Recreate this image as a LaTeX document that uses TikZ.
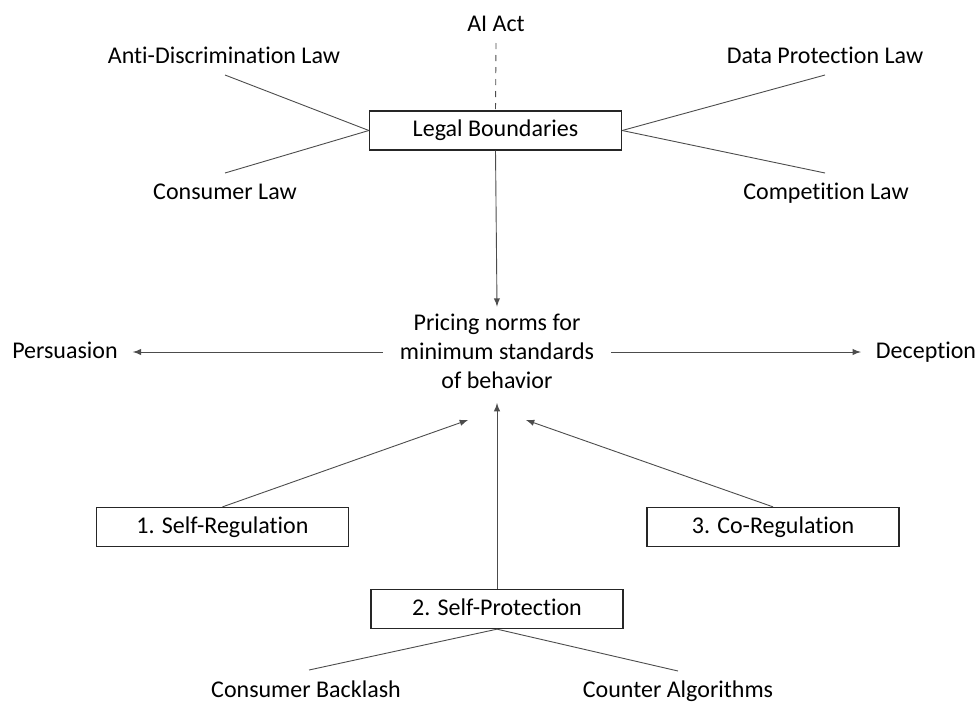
\documentclass[tikz,border=0pt]{standalone}
\usepackage{fontspec}
\setmainfont{Carlito}[Ligatures=NoCommon]
\usepackage{tikz}
\usetikzlibrary{arrows,positioning}

\begin{document}
\begin{tikzpicture}[
        x=0.5pt, y=-0.5pt,
        every node/.style={font=\fontsize{12pt}{14.5pt}\selectfont, text=black},
        lbl/.style={text height=0.68em, text depth=0.06em}, % one-line texts
        rect/.style={lbl, rectangle, draw=black!85, line width=0.65pt, minimum width=126pt, minimum height=19.5pt}, % boxes
        link/.style={draw=black!70, line width=0.45pt},
        arrow/.style={link, ->, >=latex}
    ]
    \useasboundingbox (0,0) rectangle (977,702);

    % legal frame
    \node (legal) [rect] at (495.5,130.5) {Legal Boundaries};
    \node (aiact) [lbl] at (496,25) {AI Act};
    \node (antidisc) [lbl] at (224,57) {Anti-Discrimination Law};
    \node (conslaw) [lbl] at (225,193) {Consumer Law};
    \node (dataprot) [lbl] at (825,57) {Data Protection Law};
    \node (complaw) [lbl] at (826,193) {Competition Law};
    \coordinate (aiactend) at (496,43);
    \coordinate (antiend) at (225,75);
    \coordinate (consend) at (225,173);
    \coordinate (dataend) at (825,75);
    \coordinate (compend) at (825,173);

    \draw [link, dashed] (aiactend) -- (legal.north);
    \draw [link] (antiend) -- (legal.west);
    \draw [link] (consend) -- (legal.west);
    \draw [link] (dataend) -- (legal.east);
    \draw [link] (compend) -- (legal.east);

    % pricing norms in the middle
    \node (norms) [align=center] at (497,351) {Pricing norms for\\minimum standards\\of behavior};
    \node (persuasion) [lbl] at (65,352) {Persuasion};
    \node (deception) [lbl] at (926,352) {Deception};

    \draw [arrow] (legal.south) -- (norms.north);
    \draw [arrow, shorten <=5pt, shorten >=4pt] (norms.west |- persuasion) -- (persuasion);
    \draw [arrow, shorten <=5pt, shorten >=4pt] (norms.east |- deception) -- (deception);

    % three kinds of regulation
    \node (selfreg) [rect] at (222.5,527) {1. Self-Regulation};
    \node (coreg) [rect] at (773,527) {3. Co-Regulation};
    \node (selfprot) [rect] at (497,609) {2. Self-Protection};
    \coordinate (tipleft) at (468,420);
    \coordinate (tipmid) at (497,403);
    \coordinate (tipright) at (526,420);

    \draw [arrow] (selfreg.north) -- (tipleft);
    \draw [arrow] (selfprot.north) -- (tipmid);
    \draw [arrow] (coreg.north) -- (tipright);

    % self-protection means
    \node (backlash) [lbl] at (306,691) {Consumer Backlash};
    \node (counteralg) [lbl] at (678,691) {Counter Algorithms};
    \coordinate (backend) at (309,670);
    \coordinate (counterend) at (678,671);

    \draw [link] (selfprot.south) -- (backend);
    \draw [link] (selfprot.south) -- (counterend);
\end{tikzpicture}
\end{document}
